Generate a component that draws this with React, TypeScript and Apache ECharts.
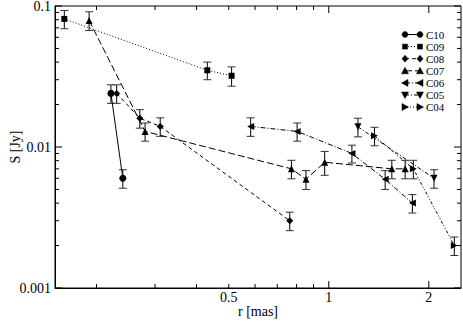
import React, { useEffect, useRef } from 'react';
import * as echarts from 'echarts';

// ---- axis ranges & ticks ----
const X_MIN = 0.15;
const X_MAX = 2.5;
const Y_MIN = 0.001;
const Y_MAX = 0.1;
const xTickLabels = [0.5, 1, 2];
const xMajorTicks = [1, 2];
const xMinorTicks = [0.2, 0.3, 0.4, 0.5, 0.6, 0.7, 0.8, 0.9];
const yTickLabels = [0.001, 0.01, 0.1];
const yMajorTicks = [0.001, 0.01, 0.1];
const yMinorTicks = [0.002, 0.003, 0.004, 0.005, 0.006, 0.007, 0.008, 0.009, 0.02, 0.03, 0.04, 0.05, 0.06, 0.07, 0.08, 0.09];

// ---- data: r [mas], S [Jy], error [Jy] ----
const c10R = [0.221, 0.240];
const c10S = [0.024, 0.0060];
const c10E = [0.0036, 0.0009];

const c09R = [0.160, 0.431, 0.510];
const c09S = [0.081, 0.035, 0.032];
const c09E = [0.012, 0.005, 0.005];

const c08R = [0.230, 0.270, 0.311, 0.763];
const c08S = [0.024, 0.016, 0.014, 0.0030];
const c08E = [0.0036, 0.0024, 0.0021, 0.00045];

const c07R = [0.190, 0.280, 0.772, 0.854, 0.972, 1.548, 1.698];
const c07S = [0.079, 0.0129, 0.0070, 0.0059, 0.0078, 0.0070, 0.0070];
const c07E = [0.012, 0.0019, 0.00105, 0.0009, 0.0015, 0.00105, 0.00105];

const c06R = [0.582, 0.803, 1.174, 1.478, 1.785];
const c06S = [0.0140, 0.0129, 0.0090, 0.0059, 0.0040];
const c06E = [0.0021, 0.0019, 0.0013, 0.0009, 0.0006];

const c05R = [1.224, 2.074];
const c05S = [0.0139, 0.0060];
const c05E = [0.0021, 0.0009];

const c04R = [1.373, 1.797, 2.387];
const c04S = [0.0120, 0.0070, 0.0020];
const c04E = [0.0018, 0.00105, 0.0003];

const FONT = 'Liberation Serif';

type Comp = { name: string; r: number[]; s: number[]; e: number[]; symbol: string; rot: number; size: number; dash: number[] | 'solid' };

const comps: Comp[] = [
  { name: 'C10', r: c10R, s: c10S, e: c10E, symbol: 'circle', rot: 0, size: 7, dash: 'solid' },
  { name: 'C09', r: c09R, s: c09S, e: c09E, symbol: 'rect', rot: 0, size: 6, dash: [1, 2] },
  { name: 'C08', r: c08R, s: c08S, e: c08E, symbol: 'diamond', rot: 0, size: 7, dash: [4, 3] },
  { name: 'C07', r: c07R, s: c07S, e: c07E, symbol: 'triangle', rot: 0, size: 7, dash: [7, 3] },
  { name: 'C06', r: c06R, s: c06S, e: c06E, symbol: 'triangle', rot: 90, size: 7, dash: [5, 2, 1, 2] },
  { name: 'C05', r: c05R, s: c05S, e: c05E, symbol: 'triangle', rot: 180, size: 7, dash: [4, 2, 1, 2] },
  { name: 'C04', r: c04R, s: c04S, e: c04E, symbol: 'triangle', rot: -90, size: 7, dash: [3, 2, 1, 2, 1, 2] },
];

function legendSymbol(kind: string, rot: number, cx: number, cy: number): any {
  const st = { fill: '#000', stroke: '#000', lineWidth: 0.5 };
  if (kind === 'circle') return { type: 'circle', shape: { cx, cy, r: 3 }, style: st };
  if (kind === 'rect') return { type: 'rect', shape: { x: cx - 2.5, y: cy - 2.5, width: 5, height: 5 }, style: st };
  if (kind === 'diamond') return { type: 'polygon', shape: { points: [[cx, cy - 3.5], [cx + 3, cy], [cx, cy + 3.5], [cx - 3, cy]] }, style: st };
  let pts: number[][];
  if (rot === 0) pts = [[cx, cy - 3.5], [cx + 3.5, cy + 3], [cx - 3.5, cy + 3]];
  else if (rot === 180) pts = [[cx, cy + 3.5], [cx + 3.5, cy - 3], [cx - 3.5, cy - 3]];
  else if (rot === 90) pts = [[cx - 3.5, cy], [cx + 3, cy - 3.5], [cx + 3, cy + 3.5]];
  else pts = [[cx + 3.5, cy], [cx - 3, cy - 3.5], [cx - 3, cy + 3.5]];
  return { type: 'polygon', shape: { points: pts }, style: st };
}

export default function App() {
  const ref = useRef<HTMLDivElement>(null);
  useEffect(() => {
    if (!ref.current) return;
    const chart = echarts.init(ref.current, null, { renderer: 'svg' });

    const lineSeries = comps.map((c) => ({
      name: c.name,
      type: 'line',
      data: c.r.map((r, i) => [r, c.s[i]]),
      symbol: c.symbol,
      symbolSize: c.size,
      symbolRotate: c.rot,
      itemStyle: { color: '#000' },
      lineStyle: { color: '#000', width: 1, type: c.dash },
      z: 5,
      silent: true,
    }));

    const errData: number[][] = [];
    comps.forEach((c) => c.r.forEach((r, i) => errData.push([r, c.s[i], c.e[i]])));

    const errSeries = {
      type: 'custom',
      data: errData,
      encode: { x: 0, y: 1 },
      silent: true,
      z: 4,
      renderItem: (params: any, api: any) => {
        const x = api.value(0), y = api.value(1), e = api.value(2);
        const pT = api.coord([x, y + e]);
        const pB = api.coord([x, y - e]);
        const cx = pT[0];
        const w = 4;
        return {
          type: 'group',
          children: [
            { type: 'line', shape: { x1: cx, y1: pT[1], x2: cx, y2: pB[1] }, style: { stroke: '#000', lineWidth: 1 } },
            { type: 'line', shape: { x1: cx - w, y1: pT[1], x2: cx + w, y2: pT[1] }, style: { stroke: '#333', lineWidth: 1 } },
            { type: 'line', shape: { x1: cx - w, y1: pB[1], x2: cx + w, y2: pB[1] }, style: { stroke: '#333', lineWidth: 1 } },
          ],
        };
      },
    };

    const xTickData = [...xMajorTicks.map((v) => [v, Y_MIN, 1]), ...xMinorTicks.map((v) => [v, Y_MIN, 0])];
    const yTickData = [...yMajorTicks.map((v) => [X_MIN, v, 1]), ...yMinorTicks.map((v) => [X_MIN, v, 0])];

    const xTickSeries = {
      type: 'custom', data: xTickData, encode: { x: 0, y: 1 }, silent: true, clip: false, z: 6,
      renderItem: (params: any, api: any) => {
        const cs = params.coordSys;
        const len = api.value(2) === 1 ? 7 : 4;
        const x = api.coord([api.value(0), Y_MIN])[0];
        const yb = cs.y + cs.height, yt = cs.y;
        return {
          type: 'group', children: [
            { type: 'line', shape: { x1: x, y1: yb, x2: x, y2: yb - len }, style: { stroke: '#000', lineWidth: 1 } },
            { type: 'line', shape: { x1: x, y1: yt, x2: x, y2: yt + len }, style: { stroke: '#000', lineWidth: 1 } },
          ],
        };
      },
    };

    const yTickSeries = {
      type: 'custom', data: yTickData, encode: { x: 0, y: 1 }, silent: true, clip: false, z: 6,
      renderItem: (params: any, api: any) => {
        const cs = params.coordSys;
        const len = api.value(2) === 1 ? 7 : 4;
        const y = api.coord([X_MIN, api.value(1)])[1];
        const xl = cs.x, xr = cs.x + cs.width;
        return {
          type: 'group', children: [
            { type: 'line', shape: { x1: xl, y1: y, x2: xl + len, y2: y }, style: { stroke: '#000', lineWidth: 1 } },
            { type: 'line', shape: { x1: xr, y1: y, x2: xr - len, y2: y }, style: { stroke: '#000', lineWidth: 1 } },
          ],
        };
      },
    };

    const xLabelSeries = {
      type: 'custom', data: xTickLabels.map((v) => [v, Y_MIN]), encode: { x: 0, y: 1 }, silent: true, clip: false, z: 6,
      renderItem: (params: any, api: any) => {
        const cs = params.coordSys;
        const v = api.value(0);
        const x = api.coord([v, Y_MIN])[0];
        return {
          type: 'text',
          style: { text: String(v), x, y: cs.y + cs.height + 2, align: 'center', verticalAlign: 'top', textAlign: 'center', textVerticalAlign: 'top', fontSize: 14, fontFamily: FONT, fill: '#000' },
        };
      },
    };

    const yLabelSeries = {
      type: 'custom', data: yTickLabels.map((v) => [X_MIN, v]), encode: { x: 0, y: 1 }, silent: true, clip: false, z: 6,
      renderItem: (params: any, api: any) => {
        const cs = params.coordSys;
        const v = api.value(1);
        const y = api.coord([X_MIN, v])[1];
        return {
          type: 'text',
          style: { text: String(v), x: cs.x - 4, y, align: 'right', verticalAlign: 'middle', textAlign: 'right', textVerticalAlign: 'middle', fontSize: 14, fontFamily: FONT, fill: '#000' },
        };
      },
    };

    // legend drawn as graphic (two symbols joined by the series' line style)
    const legendEls: any[] = [];
    comps.forEach((c, i) => {
      const cy = 34.5 + i * 12.1;
      const x0 = 405, x1 = 420;
      legendEls.push({ type: 'line', shape: { x1: x0, y1: cy, x2: x1, y2: cy }, style: { stroke: '#000', lineWidth: 1, lineDash: c.dash === 'solid' ? null : c.dash } });
      legendEls.push(legendSymbol(c.symbol, c.rot, x0, cy));
      legendEls.push(legendSymbol(c.symbol, c.rot, x1, cy));
      legendEls.push({ type: 'text', style: { text: c.name, x: 426, y: cy, verticalAlign: 'middle', textVerticalAlign: 'middle', fontSize: 11, lineHeight: 11, fontFamily: FONT, fill: '#000' } });
    });

    chart.setOption({
      animation: false,
      backgroundColor: '#fff',
      grid: { left: 54, right: 2, top: 6, bottom: 32, show: true, borderColor: '#000', borderWidth: 1, containLabel: false },
      xAxis: {
        type: 'log', logBase: 10, min: X_MIN, max: X_MAX,
        name: 'r [mas]', nameLocation: 'middle', nameGap: 16,
        nameTextStyle: { fontSize: 14, fontFamily: FONT, color: '#000' },
        axisLine: { show: true, lineStyle: { color: '#000', width: 1 } },
        axisTick: { show: false }, axisLabel: { show: false }, splitLine: { show: false }, minorTick: { show: false },
      },
      yAxis: {
        type: 'log', logBase: 10, min: Y_MIN, max: Y_MAX,
        name: 'S [Jy]', nameLocation: 'middle', nameGap: 33,
        nameTextStyle: { fontSize: 14, fontFamily: FONT, color: '#000' },
        axisLine: { show: true, lineStyle: { color: '#000', width: 1 } },
        axisTick: { show: false }, axisLabel: { show: false }, splitLine: { show: false }, minorTick: { show: false },
      },
      graphic: legendEls,
      series: [errSeries, ...lineSeries, xTickSeries, yTickSeries, xLabelSeries, yLabelSeries],
    });
    return () => chart.dispose();
  }, []);
  return <div ref={ref} style={{ position: 'fixed', left: 0, top: 0, width: 463, height: 323, background: '#fff' }} />;
}
